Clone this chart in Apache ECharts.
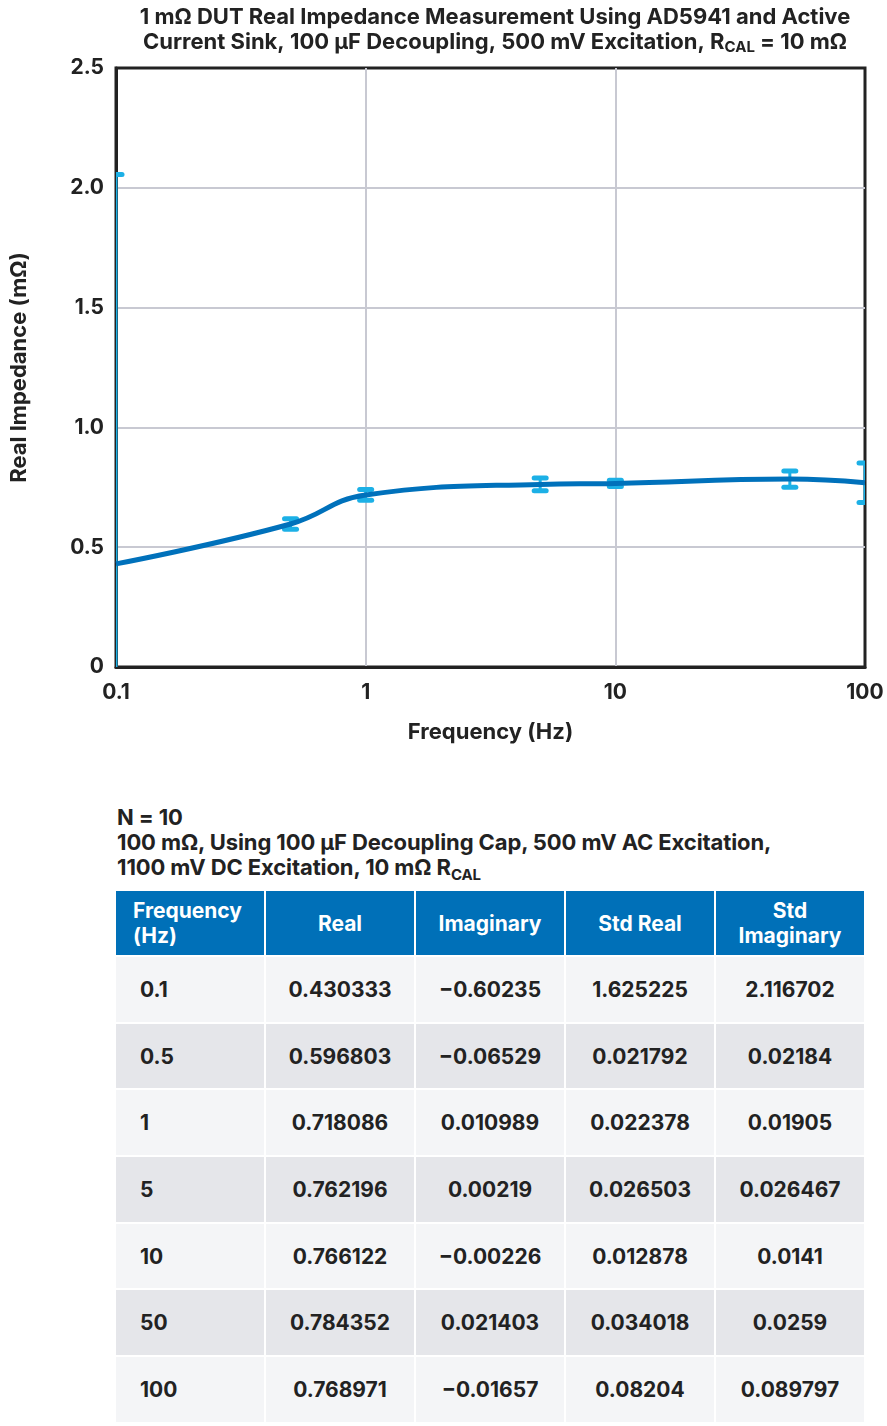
<!DOCTYPE html>
<html>
<head>
<meta charset="utf-8">
<script src="https://cdn.jsdelivr.net/npm/echarts@6/dist/echarts.min.js"></script>
<style>
  html, body { margin: 0; padding: 0; background: #fff; }
  body { width: 887px; height: 1426px; position: relative; overflow: hidden; font-family: Inter, Roboto, "Noto Sans", sans-serif; }
  #chart { position: absolute; left: 0; top: 0; width: 887px; height: 780px; }
  #tcap { position: absolute; left: 117px; top: 805px; font-weight: 700; font-size: 22px; line-height: 25px; color: #222; letter-spacing: -0.1px; }
  #tcap sub { font-size: 15px; vertical-align: -5px; line-height: 0; }
  #tbl { position: absolute; left: 114px; top: 889px; border-collapse: separate; border-spacing: 2px; font-weight: 700; font-size: 21px; color: #222; letter-spacing: 0px; }
  #tbl th { background: #0070b8; color: #fff; height: 64px; width: 148px; padding: 0; font-weight: 700; line-height: 25px; text-align: center; }
  #tbl th.first { text-align: left; padding-left: 17px; width: 131px; }
  #tbl td { height: 64.7px; width: 148px; padding: 0; text-align: center; }
  #tbl td.first { text-align: left; padding-left: 24px; width: 124px; }
  #tbl tr.light td { background: #f4f5f7; }
  #tbl tr.dark td { background: #e5e6ea; }
</style>
</head>
<body>
<div id="chart"></div>
<div id="tcap">N = 10<br>100 mΩ, Using 100 μF Decoupling Cap, 500 mV AC Excitation,<br>1100 mV DC Excitation, 10 mΩ R<sub>CAL</sub></div>
<table id="tbl"></table>
<script>
// ---- data ----
var frequencies = [0.1, 0.5, 1, 5, 10, 50, 100];
var realValues = [0.430333, 0.596803, 0.718086, 0.762196, 0.766122, 0.784352, 0.768971];
var imagValues = [-0.60235, -0.06529, 0.010989, 0.00219, -0.00226, 0.021403, -0.01657];
var stdReal = [1.625225, 0.021792, 0.022378, 0.026503, 0.012878, 0.034018, 0.08204];
var stdImag = [2.116702, 0.02184, 0.01905, 0.026467, 0.0141, 0.0259, 0.089797];
var tableHeaders = ['Frequency<br>(Hz)', 'Real', 'Imaginary', 'Std Real', 'Std<br>Imaginary'];
var freqLabels = ['0.1', '0.5', '1', '5', '10', '50', '100'];
var realLabels = ['0.430333', '0.596803', '0.718086', '0.762196', '0.766122', '0.784352', '0.768971'];
var imagLabels = ['\u22120.60235', '\u22120.06529', '0.010989', '0.00219', '\u22120.00226', '0.021403', '\u22120.01657'];
var stdRealLabels = ['1.625225', '0.021792', '0.022378', '0.026503', '0.012878', '0.034018', '0.08204'];
var stdImagLabels = ['2.116702', '0.02184', '0.01905', '0.026467', '0.0141', '0.0259', '0.089797'];
var yTicks = [0, 0.5, 1.0, 1.5, 2.0, 2.5];

// ---- table ----
var tbl = document.getElementById('tbl');
var html = '<tr>' + tableHeaders.map(function (h, i) { return '<th class="' + (i === 0 ? 'first' : '') + '">' + h + '</th>'; }).join('') + '</tr>';
for (var r = 0; r < freqLabels.length; r++) {
  var cells = [freqLabels[r], realLabels[r], imagLabels[r], stdRealLabels[r], stdImagLabels[r]];
  html += '<tr class="' + (r % 2 === 0 ? 'light' : 'dark') + '">' + cells.map(function (c, i) { return '<td class="' + (i === 0 ? 'first' : '') + '">' + c + '</td>'; }).join('') + '</tr>';
}
tbl.innerHTML = html;

// ---- chart ----
var chart = echarts.init(document.getElementById('chart'), null, { renderer: 'canvas' });
var font = 'Inter';
var fs = 21;
var lineData = frequencies.map(function (f, i) { return [f, realValues[i]]; });
var errData = frequencies.map(function (f, i) { return [f, realValues[i] - stdReal[i], realValues[i] + stdReal[i]]; });

var option = {
  animation: false,
  textStyle: { fontFamily: font },
  title: {
    text: '1 mΩ DUT Real Impedance Measurement Using AD5941 and Active\nCurrent Sink, 100 μF Decoupling, 500 mV Excitation, R{sub|CAL} = 10 mΩ',
    left: 490, top: 0, textAlign: 'center',
    textStyle: {
      fontFamily: font, fontWeight: 700, fontSize: 22, lineHeight: 25, color: '#222',
      rich: { sub: { fontFamily: font, fontWeight: 700, fontSize: 15, color: '#222', verticalAlign: 'bottom', padding: [9, 0, 0, 0] } }
    }
  },
  grid: { left: 116, top: 68, width: 749, height: 599, show: true, borderColor: '#222', borderWidth: 3, containLabel: false },
  xAxis: {
    type: 'log', logBase: 10, min: 0.1, max: 100,
    name: 'Frequency (Hz)', nameLocation: 'middle', nameGap: 54,
    nameTextStyle: { fontFamily: font, fontWeight: 700, fontSize: 22, color: '#222' },
    axisLine: { show: true, lineStyle: { color: '#222', width: 3 } },
    axisTick: { show: false },
    splitLine: { show: true, showMinLine: false, showMaxLine: false, lineStyle: { color: '#c8c9d2', width: 2 } },
    minorTick: { show: false },
    axisLabel: {
      fontFamily: font, fontWeight: 700, fontSize: fs, color: '#222', margin: 15,
      formatter: function (v) { return String(+v.toPrecision(3)); }
    }
  },
  yAxis: {
    type: 'value', min: 0, max: 2.5, interval: 0.5,
    name: 'Real Impedance (mΩ)', nameLocation: 'middle', nameGap: 86, nameRotate: 90,
    nameTextStyle: { fontFamily: font, fontWeight: 700, fontSize: 22, color: '#222' },
    axisLine: { show: true, lineStyle: { color: '#222', width: 3 } },
    axisTick: { show: false },
    splitLine: { show: true, showMinLine: false, showMaxLine: false, lineStyle: { color: '#c8c9d2', width: 2 } },
    axisLabel: {
      fontFamily: font, fontWeight: 700, fontSize: fs, color: '#222', margin: 12,
      formatter: function (v) { return v === 0 ? '0' : v.toFixed(1); }
    }
  },
  series: [
    {
      type: 'custom',
      clip: true,
      z: 3,
      data: errData,
      renderItem: function (params, api) {
        var x = api.value(0);
        var lo = api.coord([x, api.value(1)]);
        var hi = api.coord([x, api.value(2)]);
        var cx = lo[0];
        var cap = 6;
        var style = { stroke: '#1cb0e6', lineWidth: 3, lineCap: 'round' };
        var capStyle = { stroke: '#1cb0e6', lineWidth: 5, lineCap: 'round' };
        return {
          type: 'group',
          children: [
            { type: 'line', shape: { x1: cx, y1: lo[1], x2: cx, y2: hi[1] }, style: style },
            { type: 'line', shape: { x1: cx - cap, y1: lo[1], x2: cx + cap, y2: lo[1] }, style: capStyle },
            { type: 'line', shape: { x1: cx - cap, y1: hi[1], x2: cx + cap, y2: hi[1] }, style: capStyle }
          ]
        };
      }
    },
    {
      type: 'line',
      data: lineData,
      smooth: 0.45,
      symbol: 'none',
      z: 4,
      lineStyle: { color: '#0071bb', width: 5 }
    }
  ]
};
chart.setOption(option);
</script>
</body>
</html>
